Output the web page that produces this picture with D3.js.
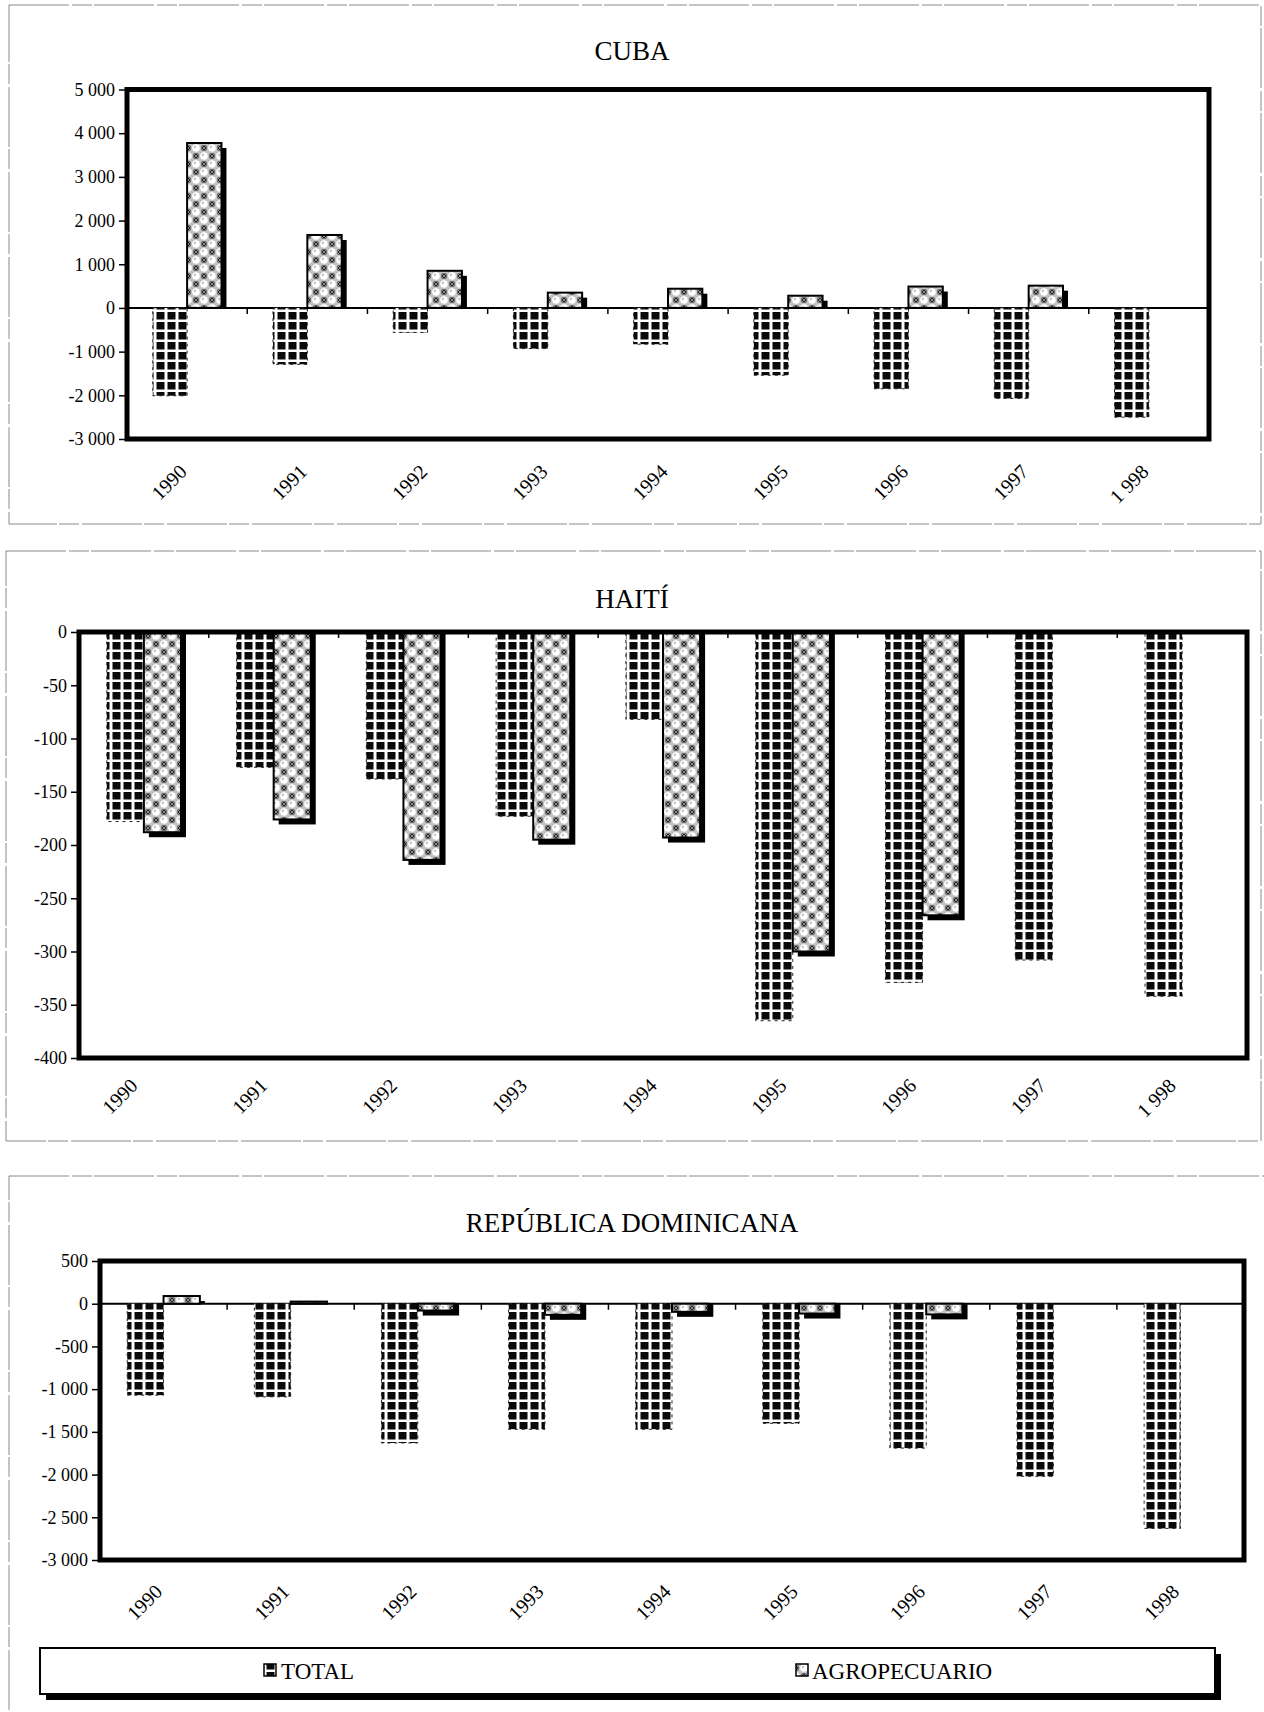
<!DOCTYPE html>
<html>
<head>
<meta charset="utf-8">
<script src="https://cdn.jsdelivr.net/npm/d3@7"></script>
<style>
  html, body { margin: 0; padding: 0; background: #fff; }
  svg { display: block; }
  text { font-family: "Liberation Serif", "Times New Roman", serif; fill: #000; }
</style>
</head>
<body>
<svg id="chart" width="1264" height="1712"></svg>
<script>
// ---------- DATA ----------
const years = ["1990", "1991", "1992", "1993", "1994", "1995", "1996", "1997", "1998"];
const yearLabelsCubaHaiti = ["1990", "1991", "1992", "1993", "1994", "1995", "1996", "1997", "1 998"];
const yearLabelsDR = ["1990", "1991", "1992", "1993", "1994", "1995", "1996", "1997", "1998"];
const seriesNames = ["TOTAL", "AGROPECUARIO"];

const cubaTotal = [-2010, -1290, -560, -930, -830, -1540, -1850, -2070, -2500];
const cubaAgro  = [3775, 1670, 850, 350, 440, 280, 490, 510, null];
const cubaTicks = [5000, 4000, 3000, 2000, 1000, 0, -1000, -2000, -3000];

const haitiTotal = [-178, -127, -138, -173, -82, -365, -329, -308, -342];
const haitiAgro  = [-188, -176, -214, -195, -193, -300, -266, null, null];
const haitiTicks = [0, -50, -100, -150, -200, -250, -300, -350, -400];

const drTotal = [-1070, -1090, -1630, -1470, -1470, -1400, -1690, -2020, -2630];
const drAgro  = [90, 25, -80, -130, -95, -115, -125, null, null];
const drTicks = [500, 0, -500, -1000, -1500, -2000, -2500, -3000];

// ---------- SETUP ----------
const FONT = '"Liberation Serif", "Times New Roman", serif';
const svg = d3.select("#chart");
const locale = d3.formatLocale({ decimal: ",", thousands: " ", grouping: [3], currency: ["", ""], minus: "-" });
const fmt = locale.format(",d");

const defs = svg.append("defs");
// TOTAL pattern: black squares with white gaps
const pTot = defs.append("pattern").attr("id", "pTotal").attr("patternUnits", "userSpaceOnUse")
  .attr("width", 11).attr("height", 10);
pTot.append("rect").attr("width", 11).attr("height", 10).attr("fill", "#fff");
pTot.append("rect").attr("x", 2.5).attr("y", 2).attr("width", 8).attr("height", 7.5).attr("fill", "#0a0a0a");

// AGROPECUARIO pattern: grey with white circles and dark crossed squares
const pAg = defs.append("pattern").attr("id", "pAgro").attr("patternUnits", "userSpaceOnUse")
  .attr("width", 16).attr("height", 16);
pAg.append("rect").attr("width", 16).attr("height", 16).attr("fill", "#c4c4c4");
[[4, 4], [12, 12]].forEach(([cx, cy]) => {
  pAg.append("circle").attr("cx", cx).attr("cy", cy).attr("r", 3.8).attr("fill", "#fff");
  pAg.append("circle").attr("cx", cx - 1).attr("cy", cy - 1).attr("r", 0.8).attr("fill", "#777");
});
[[12, 4], [4, 12]].forEach(([cx, cy]) => {
  pAg.append("rect").attr("x", cx - 2.5).attr("y", cy - 2.5).attr("width", 5).attr("height", 5).attr("fill", "#222");
  pAg.append("path").attr("d", `M${cx-2.5},${cy-2.5}L${cx+2.5},${cy+2.5}M${cx+2.5},${cy-2.5}L${cx-2.5},${cy+2.5}`)
    .attr("stroke", "#aaa").attr("stroke-width", 0.8);
});

function drawPanel(cfg) {
  const g = svg.append("g");
  // outer panel frame
  g.append("rect").attr("x", cfg.frame[0]).attr("y", cfg.frame[1])
    .attr("width", cfg.frame[2] - cfg.frame[0]).attr("height", cfg.frame[3] - cfg.frame[1])
    .attr("fill", "none").attr("stroke", "#8a8a8a").attr("stroke-width", 1)
    .attr("stroke-dasharray", "60,3,20,2");

  g.append("text").attr("x", 632).attr("y", cfg.titleY).attr("text-anchor", "middle")
    .attr("font-family", FONT).attr("font-size", 27).text(cfg.title);

  const x = d3.scaleBand().domain(years).range([cfg.left, cfg.right])
    .paddingInner(1.5 / 3.5).paddingOuter(0.75 / 3.5);
  const x1 = d3.scaleBand().domain(seriesNames).range([0, x.bandwidth()]);
  const y = d3.scaleLinear().domain([d3.min(cfg.ticks), d3.max(cfg.ticks)]).range([cfg.bottom, cfg.top]);
  const y0 = y(0);

  // y axis
  const ya = g.append("g").attr("transform", `translate(${cfg.left - 2},0)`)
    .call(d3.axisLeft(y).tickValues(cfg.ticks).tickFormat(fmt).tickSize(6).tickPadding(4));
  ya.attr("font-family", FONT).attr("font-size", 18);
  ya.select(".domain").remove();
  ya.selectAll("line").attr("stroke", "#000").attr("stroke-width", 1.5);
  ya.selectAll("text").attr("font-size", 18).attr("font-family", FONT);

  // zero line and category ticks
  g.append("line").attr("x1", cfg.left).attr("x2", cfg.right).attr("y1", y0).attr("y2", y0)
    .attr("stroke", "#000").attr("stroke-width", 2);
  const step = x.step();
  const bounds = d3.range(1, years.length).map(i => cfg.left + i * step);
  g.selectAll(".ctick").data(bounds).enter().append("line")
    .attr("x1", d => d).attr("x2", d => d).attr("y1", y0).attr("y2", y0 + 6)
    .attr("stroke", "#000").attr("stroke-width", 1.5);

  // TOTAL bars
  const tot = years.map((yr, i) => ({ yr, v: cfg.total[i] })).filter(d => d.v != null);
  g.selectAll(".tot").data(tot).enter().append("rect")
    .attr("x", d => x(d.yr) + x1("TOTAL"))
    .attr("y", d => Math.min(y(d.v), y0))
    .attr("width", x1.bandwidth())
    .attr("height", d => Math.abs(y(d.v) - y0))
    .attr("fill", "url(#pTotal)")
    .attr("stroke", "#222").attr("stroke-width", 1).attr("stroke-dasharray", "3,4");

  // AGRO bars with shadow
  const ag = years.map((yr, i) => ({ yr, v: cfg.agro[i] })).filter(d => d.v != null);
  g.selectAll(".agsh").data(ag).enter().append("rect")
    .attr("x", d => x(d.yr) + x1("AGROPECUARIO") + 5)
    .attr("y", d => Math.min(y(d.v), y0) + (d.v >= 0 ? 5 : 0))
    .attr("width", x1.bandwidth())
    .attr("height", d => Math.max(0, Math.abs(y(d.v) - y0) + (d.v >= 0 ? -5 : 5)))
    .attr("fill", "#000");
  g.selectAll(".ag").data(ag).enter().append("rect")
    .attr("x", d => x(d.yr) + x1("AGROPECUARIO"))
    .attr("y", d => Math.min(y(d.v), y0))
    .attr("width", x1.bandwidth())
    .attr("height", d => Math.abs(y(d.v) - y0))
    .attr("fill", "url(#pAgro)")
    .attr("stroke", "#000").attr("stroke-width", 2);

  // plot area frame
  g.append("rect").attr("x", cfg.left).attr("y", cfg.top)
    .attr("width", cfg.right - cfg.left).attr("height", cfg.bottom - cfg.top)
    .attr("fill", "none").attr("stroke", "#000").attr("stroke-width", 5);

  // year labels
  g.selectAll(".yl").data(years).enter().append("text")
    .attr("transform", (d) => `translate(${x(d) + x.bandwidth() / 2 + cfg.labelDx},${cfg.bottom + cfg.labelDy}) rotate(-45)`)
    .attr("text-anchor", "end").attr("font-family", FONT).attr("font-size", 20)
    .text((d, i) => cfg.yearLabels[i]);
}

drawPanel({
  title: "CUBA", titleY: 60, frame: [9, 5, 1261, 524],
  left: 127, right: 1209, top: 89.5, bottom: 439, labelDx: 1, labelDy: 34,
  ticks: cubaTicks, total: cubaTotal, agro: cubaAgro, yearLabels: yearLabelsCubaHaiti
});
drawPanel({
  title: "HAITÍ", titleY: 608, frame: [6, 551, 1261, 1141],
  left: 79, right: 1247, top: 632, bottom: 1058, labelDx: -5, labelDy: 29,
  ticks: haitiTicks, total: haitiTotal, agro: haitiAgro, yearLabels: yearLabelsCubaHaiti
});
drawPanel({
  title: "REPÚBLICA DOMINICANA", titleY: 1232, frame: [9, 1176, 1266, 1716],
  left: 100, right: 1244, top: 1261, bottom: 1560, labelDx: 0, labelDy: 33,
  ticks: drTicks, total: drTotal, agro: drAgro, yearLabels: yearLabelsDR
});

// ---------- LEGEND ----------
const lg = svg.append("g");
lg.append("rect").attr("x", 46).attr("y", 1654).attr("width", 1175).attr("height", 46).attr("fill", "#000");
lg.append("rect").attr("x", 40).attr("y", 1648).attr("width", 1175).attr("height", 46)
  .attr("fill", "#fff").attr("stroke", "#000").attr("stroke-width", 2);
const legendItems = [
  { name: seriesNames[0], fill: "url(#pTotal)", sx: 264, tx: 281 },
  { name: seriesNames[1], fill: "url(#pAgro)", sx: 796, tx: 812 }
];
legendItems.forEach(it => {
  lg.append("rect").attr("x", it.sx).attr("y", 1664).attr("width", 12).attr("height", 12)
    .attr("fill", it.fill).attr("stroke", "#000").attr("stroke-width", 1.5);
  lg.append("text").attr("x", it.tx).attr("y", 1679).attr("font-family", FONT).attr("font-size", 23).text(it.name);
});
</script>
</body>
</html>
